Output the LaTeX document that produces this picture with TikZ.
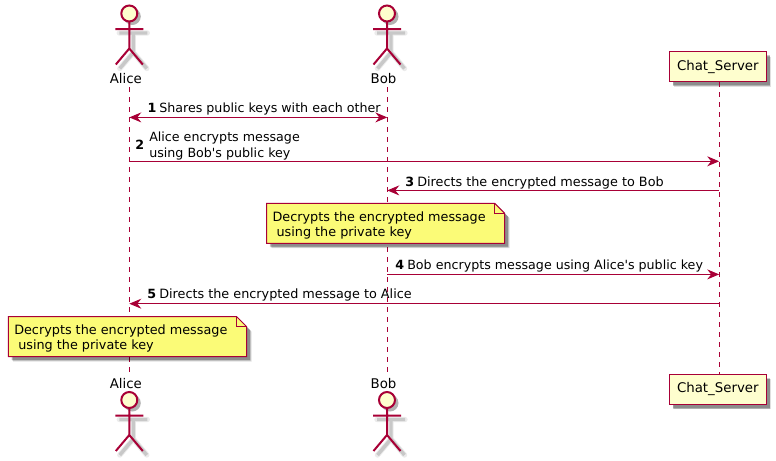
\documentclass[tikz,border=0pt]{standalone}
\usepackage{fontspec}
\setmainfont[Ligatures=TeXOff]{DejaVu Sans}
\usetikzlibrary{arrows.meta,shadows}

\definecolor{umlline}{HTML}{A80036}
\definecolor{umlfill}{HTML}{FEFECE}
\definecolor{umlnote}{HTML}{FBFB77}

\tikzset{
    softshadow/.style={
        general shadow={fill=black,opacity=.12,shadow xshift=3.6pt,shadow yshift=-3.6pt},
        general shadow={fill=black,opacity=.22,shadow xshift=3pt,shadow yshift=-3pt},
        general shadow={fill=black,opacity=.2,shadow xshift=2.4pt,shadow yshift=-2.4pt}},
    lifeline/.style={draw=umlline,line width=.75pt,dash pattern=on 3.75pt off 3.75pt},
    msg/.style={draw=umlline,line width=.75pt},
    head/.style={-{Stealth[length=9pt,width=7.5pt,inset=3pt]}},
    bothheads/.style={{Stealth[length=9pt,width=7.5pt,inset=3pt]}-{Stealth[length=9pt,width=7.5pt,inset=3pt]}},
    msgtext/.style={anchor=base west,inner sep=0pt,font=\fontsize{9.5pt}{11.5pt}\selectfont,align=left},
    widetext/.style={msgtext,font=\fontsize{9.6pt}{11.6pt}\selectfont},
    msgnum/.style={msgtext,font=\fontsize{9.5pt}{11.5pt}\selectfont\bfseries},
    actorname/.style={anchor=base,inner sep=0pt,font=\fontsize{10pt}{12pt}\selectfont},
    serverbox/.style={draw=umlline,fill=umlfill,line width=1.1pt,minimum width=72.75pt,minimum height=22.5pt,
        inner sep=0pt,font=\fontsize{10pt}{12pt}\selectfont,softshadow},
    notebody/.style={draw=umlline,fill=umlnote,line width=.75pt,softshadow},
    stickman/.pic={
        \draw[black,opacity=.08,line width=4pt,line cap=round,shift={(4,4)}]
            (0,15.5) -- (0,35) (-14,15.5) -- (14,15.5) (-13.5,51) -- (0,35) -- (13.5,51);
        \draw[black,opacity=.15,line width=2.6pt,shift={(4,4)}]
            (0,15.5) -- (0,35) (-14,15.5) -- (14,15.5) (-13.5,51) -- (0,35) -- (13.5,51);
        \fill[black,opacity=.3,shift={(3,3)}] (0,0) circle (8.5);
        \draw[umlline,line width=1.5pt,fill=umlfill] (0,0) circle (8);
        \draw[umlline,line width=1.5pt]
            (0,8) -- (0,35) (-14,15.5) -- (14,15.5) (-13.5,51) -- (0,35) -- (13.5,51);
    }
}

\newcommand{\umlnote}[4]{% left, right, top, bottom
    \path[notebody] (#1,#3) -- (#2-10,#3) -- (#2,#3+10) -- (#2,#4) -- (#1,#4) -- cycle;
    \draw[umlline,line width=.75pt] (#2-10,#3) -- (#2-10,#3+10) -- (#2,#3+10);
}

\begin{document}
\begin{tikzpicture}[x=.75pt,y=-.75pt]
    \useasboundingbox (0,0) rectangle (776,461);

    % lifelines
    \coordinate (AliceTop) at (129.3,87);
    \coordinate (AliceEnd) at (129.3,372);
    \coordinate (BobTop) at (387.3,87);
    \coordinate (BobEnd) at (387.3,372);
    \coordinate (ServerLine) at (719.2,0);

    \node[serverbox] (ServerTop) at (717.8,66.7) {Chat\_Server};
    \node[serverbox] (ServerEnd) at (717.8,389.5) {Chat\_Server};

    \draw[lifeline] (AliceTop) -- (AliceEnd);
    \draw[lifeline] (BobTop) -- (BobEnd);
    \draw[lifeline] (ServerTop.south -| ServerLine) -- (ServerEnd.north -| ServerLine);

    % actors
    \pic at (129.3,13.5) {stickman};
    \pic at (387,13.5) {stickman};
    \pic at (129.3,400) {stickman};
    \pic at (387,400) {stickman};

    \node[actorname] (AliceUp) at (125.8,83) {Alice};
    \node[actorname] (BobUp) at (383.5,83) {Bob};
    \node[actorname] (AliceDown) at (125.8,388) {Alice};
    \node[actorname] (BobDown) at (383.5,388) {Bob};

    % messages
    \coordinate (A1) at (129.3,117.4);
    \coordinate (B1) at (387.3,117.4);
    \coordinate (A2) at (129.3,161.3);
    \coordinate (S2) at (719.2,161.3);
    \coordinate (S3) at (719.2,190.4);
    \coordinate (B3) at (387.3,190.4);
    \coordinate (B4) at (387.3,274.4);
    \coordinate (S4) at (719.2,274.4);
    \coordinate (S5) at (719.2,303.7);
    \coordinate (A5) at (129.3,303.7);

    \draw[msg,bothheads] (A1) -- (B1);
    \draw[msg,head] (A2) -- (S2);
    \draw[msg,head] (S3) -- (B3);
    \draw[msg,head] (B4) -- (S4);
    \draw[msg,head] (S5) -- (A5);

    \node[msgnum] (N1) at (147.3,112) {1};
    \node[msgtext] (T1) at (159,112) {Shares public keys with each other};
    \node[msgnum] (N2) at (135,149.5) {2};
    \node[msgtext] (T2) at (149,157) {Alice encrypts message\\using Bob's public key};
    \node[msgnum] (N3) at (405,186.7) {3};
    \node[widetext] (T3) at (417,186.7) {Directs the encrypted message to Bob};
    \node[msgnum] (N4) at (395,269) {4};
    \node[msgtext] (T4) at (407,269) {Bob encrypts message using Alice's public key};
    \node[msgnum] (N5) at (147,298) {5};
    \node[widetext] (T5) at (159,298) {Directs the encrypted message to Alice};

    % notes
    \umlnote{266.7}{504.7}{203.3}{243.3}
    \node[widetext] (Note1) at (272.3,236.5) {Decrypts the encrypted message\\\hspace*{3pt}using the private key};
    \umlnote{8.3}{246.7}{316.7}{356.7}
    \node[widetext] (Note2) at (14,349.5) {Decrypts the encrypted message\\\hspace*{3pt}using the private key};
\end{tikzpicture}
\end{document}
